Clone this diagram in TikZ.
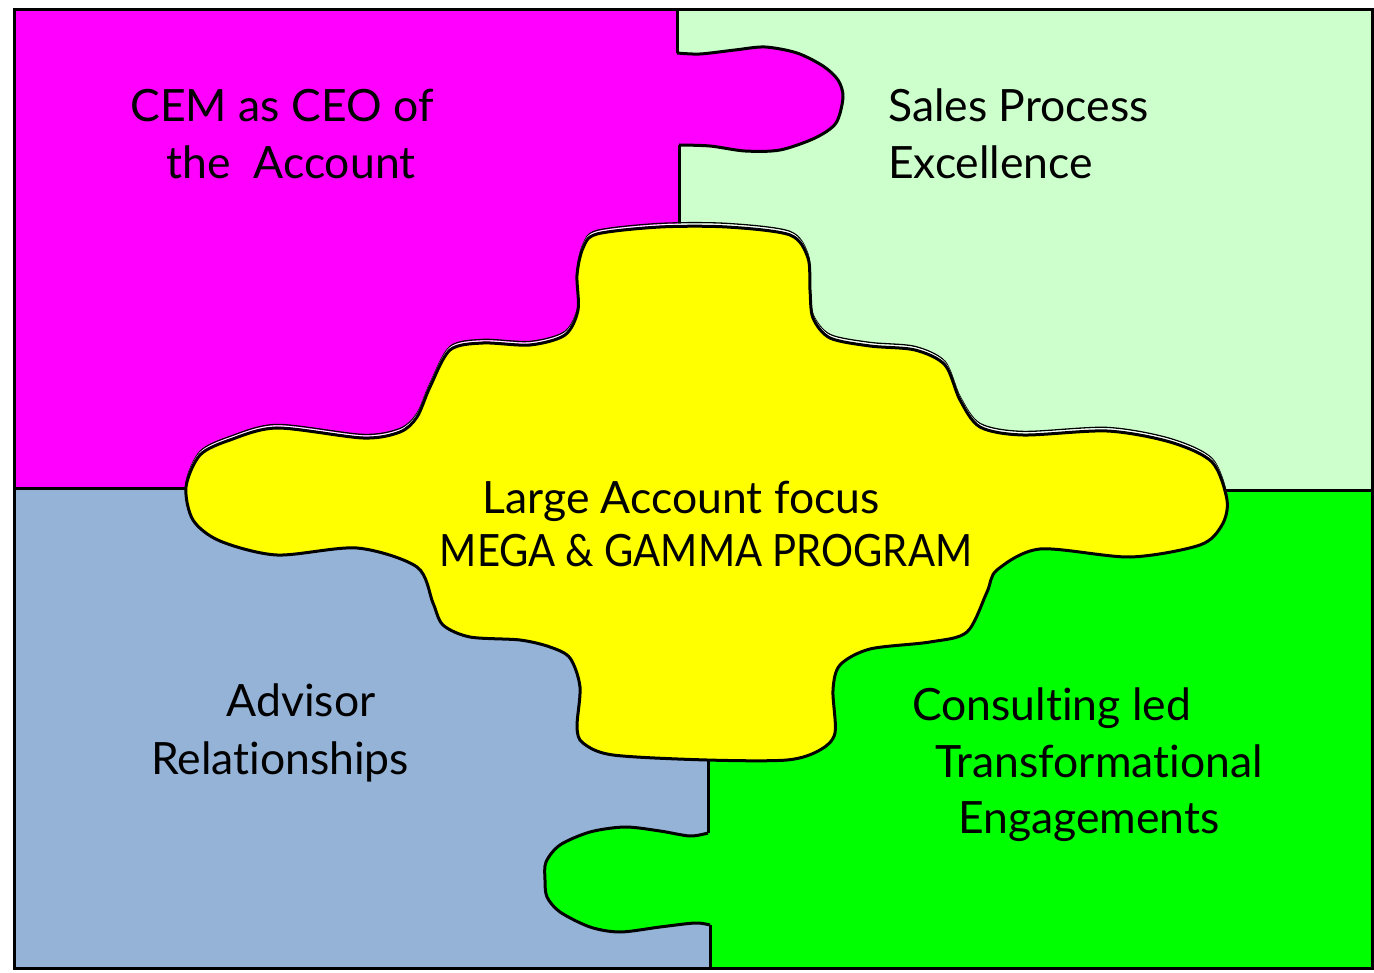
\documentclass[tikz,border=0pt]{standalone}
\usepackage{fontspec}
\usepackage{graphicx}
\setmainfont{Lato}[Ligatures=NoCommon]
\definecolor{cemcol}{HTML}{FF00FF}
\definecolor{salescol}{HTML}{CCFFCC}
\definecolor{advcol}{HTML}{95B3D7}
\definecolor{conscol}{HTML}{00FF00}
\definecolor{focuscol}{HTML}{FFFF00}
\begin{document}
\begin{tikzpicture}[x=1pt,y=-1pt]
    \tikzset{
      piece/.style={line width=3pt, draw=black},
      lbl/.style={inner sep=0pt, font=\fontsize{44.5}{52}\selectfont},
    }
    \useasboundingbox (0,0) rectangle (1374,973);
    % four quarters
    \fill [cemcol] (14,10) rectangle (679,489);
    \fill [salescol] (678,10) rectangle (1372,490);
    \fill [advcol] (14,489) rectangle (710,968);
    \fill [conscol] (709,490) rectangle (1372,968);
    % tab of the top left piece
    \fill [cemcol] plot [smooth] coordinates {(677,53) (700,54) (735,50) (765,47) (797,53) (823,66) (838,80) (843,97) (836,123) (815,138) (780,150) (745,151) (710,146) (679,145)} -- (670,145) -- (670,53) -- cycle;
    \draw [piece] plot [smooth] coordinates {(677,53) (700,54) (735,50) (765,47) (797,53) (823,66) (838,80) (843,97) (836,123) (815,138) (780,150) (745,151) (710,146) (679,145)};
    \draw [piece] (677,10) -- (677,53);
    \draw [piece] (679,145) -- (679,240);
    % tab of the bottom right piece
    \fill [conscol] plot [smooth] coordinates {(708,833) (690,836) (660,831) (625,827) (590,832) (560,845) (546,862) (545,880) (547,897) (560,912) (590,927) (620,932) (660,927) (695,923) (710,925)} -- (718,925) -- (718,833) -- cycle;
    \draw [piece] plot [smooth] coordinates {(708,833) (690,836) (660,831) (625,827) (590,832) (560,845) (546,862) (545,880) (547,897) (560,912) (590,927) (620,932) (660,927) (695,923) (710,925)};
    \draw [piece] (708,750) -- (708,833);
    \draw [piece] (710,925) -- (710,968);
    \draw [piece] (14,488) -- (200,488);
    \draw [piece] (1215,490) -- (1372,490);
    % the centre piece, upper edge doubled
    \draw [black, line width=1.3pt, yshift=3.6pt] plot [smooth cycle] coordinates {(597,234) (660,227) (727,227) (790,235) (808,258) (810,290) (813,318) (830,338) (870,346) (915,350) (945,365) (960,400) (980,427) (1023,435) (1107,431) (1170,442) (1212,462) (1227,500) (1222,525) (1200,545) (1130,557) (1040,549) (997,570) (987,592) (967,632) (930,642) (870,649) (840,665) (833,690) (835,733) (820,750) (787,760) (707,760) (613,755) (583,743) (577,727) (580,687) (570,658) (550,647) (520,640) (470,637) (443,625) (433,603) (417,567) (357,548) (277,555) (220,541) (193,520) (186,487) (200,455) (230,440) (277,428) (363,438) (400,432) (417,417) (430,387) (450,350) (483,343) (530,345) (565,335) (578,310) (577,275) (583,248)};
    \draw [white, line width=1.3pt, yshift=2pt] plot [smooth cycle] coordinates {(597,234) (660,227) (727,227) (790,235) (808,258) (810,290) (813,318) (830,338) (870,346) (915,350) (945,365) (960,400) (980,427) (1023,435) (1107,431) (1170,442) (1212,462) (1227,500) (1222,525) (1200,545) (1130,557) (1040,549) (997,570) (987,592) (967,632) (930,642) (870,649) (840,665) (833,690) (835,733) (820,750) (787,760) (707,760) (613,755) (583,743) (577,727) (580,687) (570,658) (550,647) (520,640) (470,637) (443,625) (433,603) (417,567) (357,548) (277,555) (220,541) (193,520) (186,487) (200,455) (230,440) (277,428) (363,438) (400,432) (417,417) (430,387) (450,350) (483,343) (530,345) (565,335) (578,310) (577,275) (583,248)};
    \filldraw [fill=focuscol, piece] plot [smooth cycle] coordinates {(597,234) (660,227) (727,227) (790,235) (808,258) (810,290) (813,318) (830,338) (870,346) (915,350) (945,365) (960,400) (980,427) (1023,435) (1107,431) (1170,442) (1212,462) (1227,500) (1222,525) (1200,545) (1130,557) (1040,549) (997,570) (987,592) (967,632) (930,642) (870,649) (840,665) (833,690) (835,733) (820,750) (787,760) (707,760) (613,755) (583,743) (577,727) (580,687) (570,658) (550,647) (520,640) (470,637) (443,625) (433,603) (417,567) (357,548) (277,555) (220,541) (193,520) (186,487) (200,455) (230,440) (277,428) (363,438) (400,432) (417,417) (430,387) (450,350) (483,343) (530,345) (565,335) (578,310) (577,275) (583,248)};
    % outer frame
    \draw [black, line width=3pt] (14,10) rectangle (1372,968);
    % texts
    \node [lbl, anchor=base] (cemA) at (282,122) {CEM as CEO of};
    \node [lbl, anchor=base] (cemB) at (291,179) {the\ \ Account};
    \node [lbl, anchor=base west] (salesA) at (888,122) {Sales Process};
    \node [lbl, anchor=base west] (salesB) at (888,179) {Excellence};
    \node [lbl, anchor=base] (focusA) at (681,513) {Large Account focus};
    \node [lbl, anchor=base] (focusB) at (706,566) {\scalebox{0.9}[1]{MEGA \& GAMMA PROGRAM}};
    \node [lbl, anchor=base] (advA) at (301,716) {Advisor};
    \node [lbl, anchor=base] (advB) at (280,774) {Relationships};
    \node [lbl, anchor=base west] (consA) at (912,720) {Consulting led};
    \node [lbl, anchor=base west] (consB) at (935,777) {Transformational};
    \node [lbl, anchor=base west] (consC) at (958,833) {Engagements};
\end{tikzpicture}
\end{document}
